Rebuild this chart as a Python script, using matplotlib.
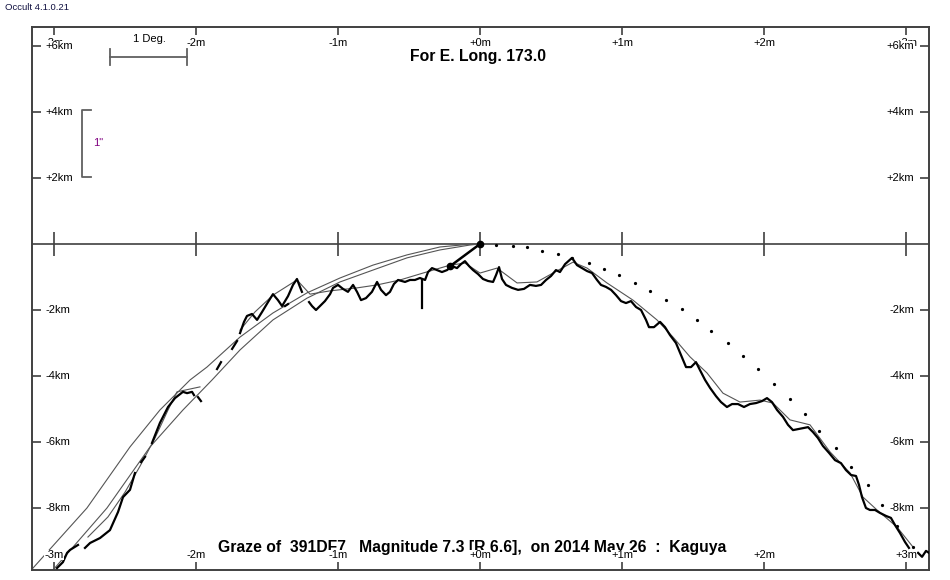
import numpy as np
from matplotlib import pyplot as plt
from matplotlib import transforms

plt.rcParams['font.family'] = ['Liberation Sans', 'DejaVu Sans']

nan = np.nan

# Профиль лимба (минуты дуги по оси X, км по оси Y)
profile_x = [
    -2.979, -2.937, -2.908, -2.887, -2.831, nan,
    -2.782, -2.746, -2.676, -2.606, -2.549, -2.514, -2.465, -2.430, nan,
    -2.387, -2.359, nan,
    -2.310, -2.254, -2.197, -2.148, -2.092, -2.063, -2.028, -2.014, nan,
    -1.986, -1.965, nan,
    -1.852, -1.824, nan,
    -1.746, -1.711, nan,
    -1.690, -1.662, -1.641, -1.606, -1.570, -1.535, -1.493, -1.458, -1.423,
    -1.394, -1.352, -1.317, -1.289, -1.268, -1.254, nan,
    -1.373, -1.352, nan,
    -1.204, -1.183, -1.155, -1.127, -1.092, -1.056, -1.035, -1.000, -0.965,
    -0.930, -0.894, -0.866, -0.838, -0.803, -0.761, -0.725, -0.697, -0.662,
    -0.634, -0.606, -0.577, -0.528, -0.493, -0.458, -0.423, -0.387, -0.366,
    -0.338, -0.303, -0.268, -0.232, -0.197, -0.162, -0.134, -0.106, -0.077,
    -0.049, -0.014, 0.021, 0.056, 0.092, 0.113, 0.134, 0.155, 0.183,
    0.225, 0.268, 0.310, 0.352, 0.394, 0.430, 0.465, 0.500, 0.535,
    0.563, 0.599, 0.648, 0.683, 0.718, 0.754, 0.789, 0.824, 0.852,
    0.887, 0.923, 0.958, 0.993, 1.028, 1.063, 1.099, 1.134, 1.169,
    1.190, 1.225, 1.268, 1.303, 1.338, 1.380, 1.415, 1.451, 1.486,
    1.521, 1.549, 1.585, 1.620, 1.662, 1.697, 1.739, 1.775, 1.817,
    1.859, 1.901, 1.944, 1.986, 2.021, 2.056, 2.092, 2.134, 2.169,
    2.204, 2.239, 2.275, 2.310, 2.345, 2.380, 2.415, 2.458, 2.500,
    2.542, 2.577, 2.613, 2.648, 2.669, 2.690, 2.718, 2.746, 2.782,
    2.817, 2.859, 2.894, 2.923, 2.958, 2.993, 3.021, nan,
    3.085, 3.113, 3.141, 3.162,
]
profile_y = [
    -9.82, -9.64, -9.36, -9.27, -9.12, nan,
    -9.21, -9.06, -8.91, -8.67, -8.12, -7.67, -7.45, -6.94, nan,
    -6.61, -6.45, nan,
    -6.03, -5.42, -4.94, -4.67, -4.48, -4.52, -4.48, -4.58, nan,
    -4.64, -4.76, nan,
    -3.79, -3.58, nan,
    -3.18, -2.94, nan,
    -2.70, -2.36, -2.18, -2.12, -2.30, -2.06, -1.76, -1.52, -1.70,
    -1.88, -1.58, -1.24, -1.06, -1.30, -1.45, nan,
    -1.88, -1.82, nan,
    -1.76, -1.88, -2.00, -1.88, -1.73, -1.52, -1.33, -1.24, -1.36,
    -1.45, -1.24, -1.45, -1.70, -1.64, -1.45, -1.15, -1.39, -1.55,
    -1.45, -1.21, -1.09, -1.15, -1.09, -1.09, -1.03, -1.09, -0.85,
    -0.73, -0.79, -0.85, -0.79, -0.67, -0.73, -0.61, -0.52, -0.67,
    -0.79, -0.91, -1.06, -1.12, -1.15, -0.94, -0.70, -1.06, -1.24,
    -1.33, -1.39, -1.36, -1.24, -1.27, -1.24, -1.09, -0.97, -0.79,
    -0.85, -0.61, -0.42, -0.64, -0.73, -0.82, -0.88, -1.09, -1.24,
    -1.30, -1.39, -1.55, -1.73, -1.79, -1.73, -1.91, -2.00, -2.30,
    -2.52, -2.52, -2.36, -2.52, -2.76, -3.00, -3.36, -3.73, -3.73,
    -3.58, -3.82, -4.12, -4.36, -4.61, -4.79, -4.94, -4.85, -4.85,
    -4.94, -4.85, -4.82, -4.76, -4.67, -4.79, -5.03, -5.24, -5.48,
    -5.64, -5.61, -5.58, -5.55, -5.70, -5.88, -6.12, -6.33, -6.55,
    -6.64, -6.85, -7.00, -7.03, -7.30, -7.67, -8.00, -8.06, -8.06,
    -8.15, -8.24, -8.30, -8.52, -8.76, -9.03, -9.21, nan,
    -9.36, -9.48, -9.30, -9.36,
]

# Сглаженный профиль
mean_x = [
    -2.761, -2.620, -2.500, -2.394, -2.289, -2.197, -2.134, -1.972, nan,
    -1.690, -1.585, -1.458, -1.289, -1.197, -1.056, -0.866, -0.725, -0.563,
    -0.401, -0.211, -0.106, 0.000, 0.120, 0.261, 0.401, 0.514, 0.655,
    0.754, 0.894, 1.077, 1.246, 1.359, 1.479, 1.599, 1.711, 1.831,
    1.972, 2.063, 2.183, 2.324, 2.465, 2.606, 2.697, 2.796, 2.937, 3.049,
]
mean_y = [
    -8.88, -8.27, -7.52, -6.73, -5.88, -5.03, -4.48, -4.33, nan,
    -2.61, -2.06, -1.55, -1.09, -1.52, -1.42, -1.33, -1.24, -1.09,
    -0.88, -0.64, -0.58, -0.88, -0.73, -1.18, -1.15, -0.88, -0.55,
    -0.73, -1.18, -1.70, -2.30, -2.82, -3.42, -3.91, -4.52, -4.79,
    -4.73, -4.82, -5.33, -5.48, -6.30, -6.94, -7.67, -8.06, -8.58, -9.18,
]

# Дуги среднего лимба
arc1_x = [-3.148, -2.768, -2.465, -2.254, -2.042, -1.923, -1.690, -1.458,
          -1.218, -0.986, -0.754, -0.514, -0.282, -0.106, -0.030]
arc1_y = [-9.82, -8.00, -6.15, -5.03, -4.12, -3.73, -2.82, -2.09,
          -1.48, -1.03, -0.64, -0.33, -0.09, -0.02, 0.0]
arc2_x = [-3.007, -2.627, -2.324, -2.092, -1.887, -1.690, -1.458, -1.218,
          -0.986, -0.754, -0.514, -0.282, -0.070, 0.0]
arc2_y = [-9.88, -8.00, -6.15, -5.03, -4.12, -3.21, -2.30, -1.64,
          -1.15, -0.79, -0.42, -0.18, -0.03, 0.0]

# Точечная линия
dots_x = [0.11, 0.23, 0.33, 0.44, 0.55, 0.65, 0.77, 0.87, 0.98, 1.09,
          1.20, 1.31, 1.42, 1.53, 1.63, 1.75, 1.85, 1.96, 2.07, 2.18,
          2.29, 2.39, 2.51, 2.61, 2.73, 2.83, 2.94, 3.05]
dots_y = [-0.03, -0.06, -0.09, -0.21, -0.30, -0.42, -0.58, -0.76, -0.94, -1.18,
          -1.42, -1.70, -1.97, -2.30, -2.64, -3.00, -3.39, -3.79, -4.24, -4.70,
          -5.15, -5.67, -6.18, -6.76, -7.30, -7.91, -8.55, -9.18]

# Звезда
star_x = [0.0, -0.21]
star_y = [0.0, -0.67]
spike_x = -0.408
spike_y = [-1.09, -1.94]

x_ticks = [-3, -2, -1, 0, 1, 2, 3]
x_labels = ['-3m', '-2m', '-1m', '+0m', '+1m', '+2m', '+3m']
y_ticks = [6, 4, 2, -2, -4, -6, -8]
y_labels = ['+6km', '+4km', '+2km', '-2km', '-4km', '-6km', '-8km']

frame = '#404040'
fig = plt.figure(figsize=(9.5, 5.8), dpi=100)
ax = fig.add_axes([32 / 950, 10 / 580, 897 / 950, 543 / 580])
ax.set_xlim(-3.155, 3.162)
ax.set_ylim(-9.879, 6.576)

for s in ax.spines.values():
    s.set_color(frame)
    s.set_linewidth(1.4)

ax.set_xticks(x_ticks)
ax.set_yticks(y_ticks)
ax.tick_params(axis='x', direction='in', length=6, width=1.2, color=frame,
               top=True, bottom=True, labelbottom=False, labeltop=False)
ax.tick_params(axis='y', direction='in', length=6.5, width=1.2, color=frame,
               left=True, right=True, labelleft=False, labelright=False)

ax.axhline(0, color=frame, lw=1.2, zorder=1)
ax.vlines(x_ticks, -0.36, 0.36, color=frame, lw=1.2, zorder=1)

# линии
ax.plot(arc1_x, arc1_y, color='#555555', lw=0.8, zorder=2)
ax.plot(arc2_x, arc2_y, color='#555555', lw=0.8, zorder=2)
ax.plot(mean_x, mean_y, color='#555555', lw=0.8, zorder=2)
ax.plot(profile_x, profile_y, color='black', lw=1.6, zorder=3)
ax.plot([spike_x, spike_x], spike_y, color='black', lw=1.6, zorder=3)
ax.plot(dots_x, dots_y, 'o', color='black', ms=1.3, zorder=3)
ax.plot(star_x, star_y, '-o', color='black', lw=1.8, ms=4.5, zorder=4)

# подписи осей
box = dict(facecolor='white', edgecolor='none', pad=0.3)
tx = transforms.blended_transform_factory(ax.transData, ax.transAxes)
for x, lab in zip(x_ticks, x_labels):
    ax.text(x, 0.9705, lab, transform=tx, ha='center', va='center',
            fontsize=8, bbox=box, zorder=6)
    ax.text(x, 0.0276, lab, transform=tx, ha='center', va='center',
            fontsize=8, bbox=box, zorder=6)
ty = transforms.blended_transform_factory(ax.transAxes, ax.transData)
for y, lab in zip(y_ticks, y_labels):
    ax.text(0.0145, y, lab, transform=ty, ha='left', va='center',
            fontsize=8, bbox=box, zorder=7)
    ax.text(0.9833, y, lab, transform=ty, ha='right', va='center',
            fontsize=8, bbox=box, zorder=7)

ax.text(0.4972, 0.9448, 'For E. Long. 173.0', transform=ax.transAxes,
        ha='center', va='center', fontsize=11.3, fontweight='bold', zorder=5)
ax.text(0.4905, 0.0414,
        'Graze of  391DF7   Magnitude 7.3 [R 6.6],  on 2014 May 26  :  Kaguya',
        transform=ax.transAxes, ha='center', va='center', fontsize=11.3,
        fontweight='bold', zorder=5)

# масштаб 1 Deg.
gray = '#606060'
ax.plot([-2.606, -2.063], [5.667, 5.667], color=gray, lw=1.3)
ax.plot([-2.606, -2.606], [5.42, 5.91], color=gray, lw=1.3)
ax.plot([-2.063, -2.063], [5.42, 5.91], color=gray, lw=1.3)
ax.text(-2.33, 6.05, '1 Deg.', ha='center', va='bottom', fontsize=8)

# масштаб 1"
ax.plot([-2.740, -2.803, -2.803, -2.740], [4.06, 4.06, 2.03, 2.03],
        color=gray, lw=1.3)
ax.text(-2.725, 3.06, '1"', ha='left', va='center', fontsize=8,
        color='#800080')

fig.text(5 / 950, 1 - 8 / 580, 'Occult 4.1.0.21', ha='left', va='center',
         fontsize=6.8, color='#101040')

fig.savefig('out.png', dpi=100)
